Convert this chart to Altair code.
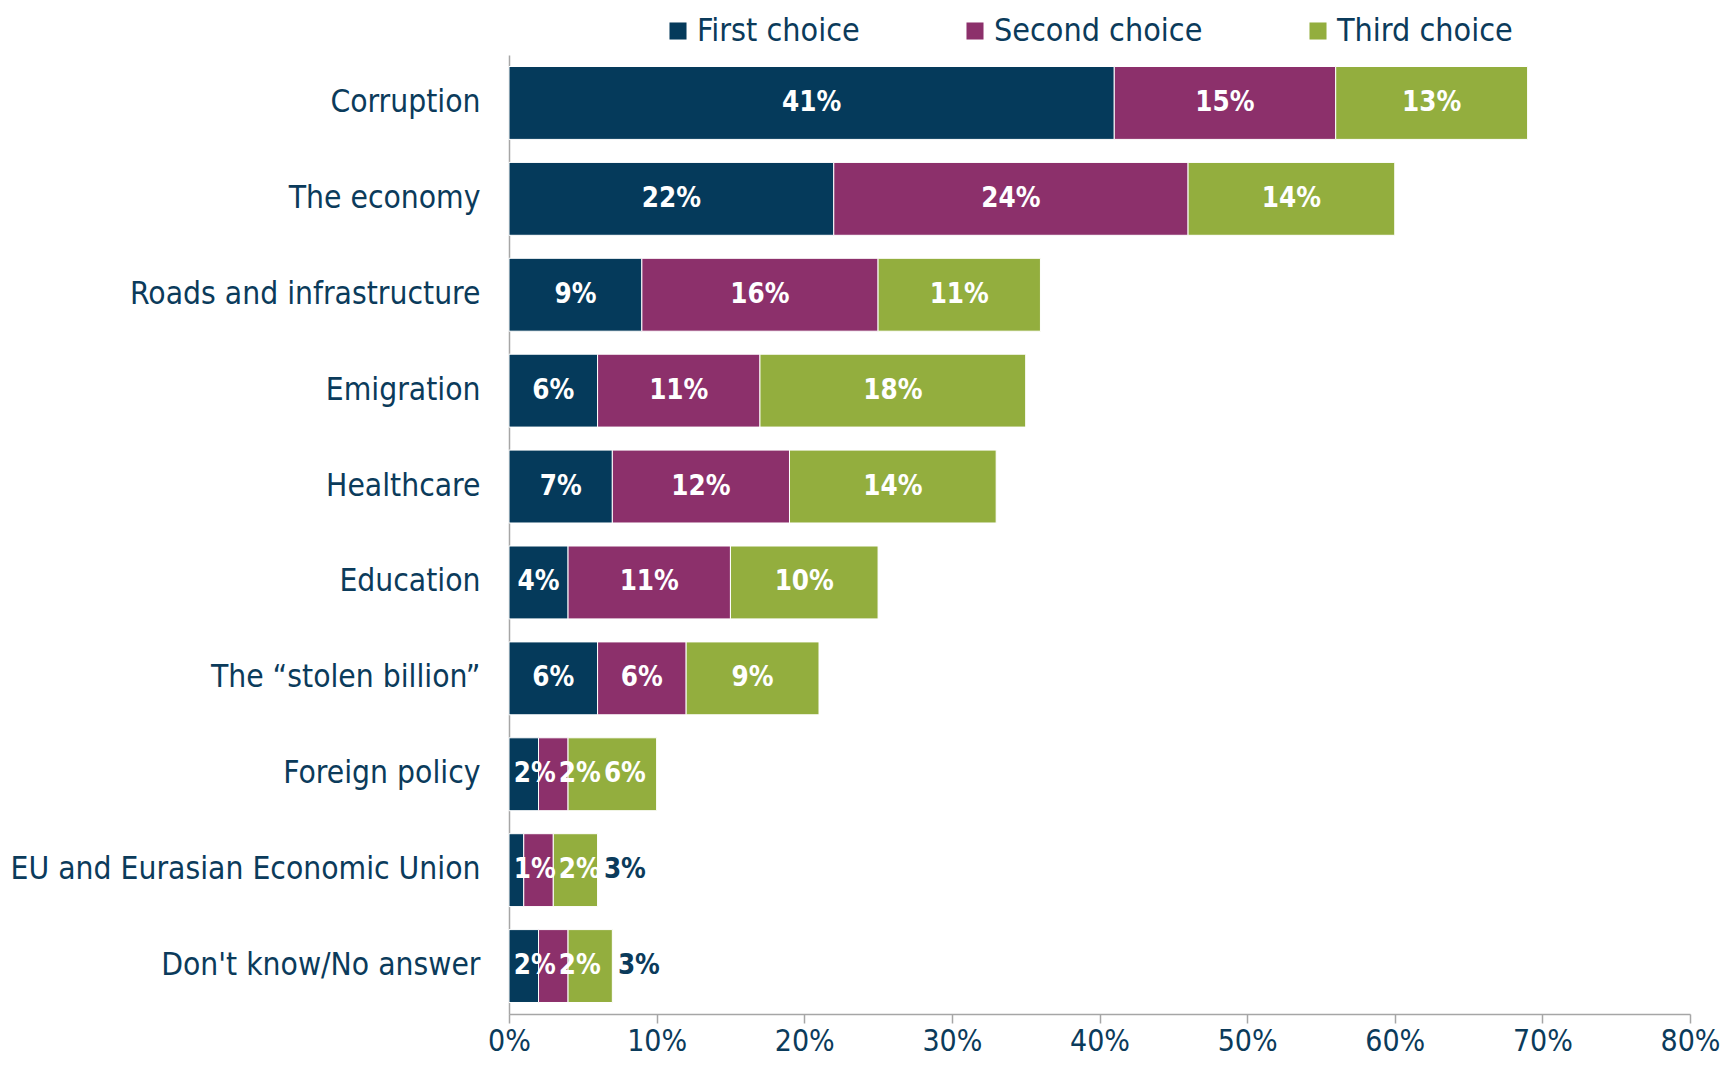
import altair as alt
import pandas as pd

categories = ["Corruption", "The economy", "Roads and infrastructure", "Emigration",
              "Healthcare", "Education\u00a0", "The \u201cstolen billion\u201d", "Foreign policy",
              "EU and Eurasian Economic Union", "Don't know/No answer"]
series = ["First choice", "Second choice", "Third choice"]
first_choice = [41, 22, 9, 6, 7, 4, 6, 2, 1, 2]
second_choice = [15, 24, 16, 11, 12, 11, 6, 2, 2, 2]
third_choice = [13, 14, 11, 18, 14, 10, 9, 6, 3, 3]

colors = ["#053a5b", "#8c306b", "#93ae3e"]
navy = "#0b3b5b"
FONT = "DejaVu Sans Condensed, DejaVu Sans"

# label layout: centre of segment, nudged right so labels never overlap (Excel-like);
# a label that no longer fits in its bar goes just past the bar end
MIN_HALF = 1.75
GAP = 3.05
OUTSIDE = 1.8
rows = []
for i, cat in enumerate(categories):
    vals = [first_choice[i], second_choice[i], third_choice[i]]
    total = sum(vals)
    start = 0
    prev = None
    for j, v in enumerate(vals):
        center = start + v / 2
        pos = max(center, MIN_HALF) if prev is None else max(center, prev + GAP)
        inside = pos < total
        if not inside:
            pos = max(pos, total + OUTSIDE)
        prev = pos
        rows.append({"category": cat, "choice": series[j], "order": j, "value": v,
                     "lx": pos, "label": f"{v}%", "inside": inside})
        start += v
df = pd.DataFrame(rows)

y_enc = alt.Y("category:N", sort=categories,
              scale=alt.Scale(paddingInner=0.24, paddingOuter=0.12),
              axis=alt.Axis(title=None, ticks=False, labelPadding=29, labelFontSize=31.5,
                            labelFont=FONT, labelColor=navy, domainColor="#a6a6a6",
                            domainWidth=1.5, minExtent=501, maxExtent=501, labelLimit=600))

bars = alt.Chart(df).mark_bar(stroke="white", strokeWidth=1).encode(
    x=alt.X("value:Q", stack="zero",
            scale=alt.Scale(domain=[0, 80], nice=False),
            axis=alt.Axis(title=None, values=list(range(0, 81, 10)), labelExpr="datum.value + '%'",
                          grid=False, tickSize=9, tickColor="#a6a6a6", domainColor="#a6a6a6",
                          domainWidth=1.5, tickWidth=1.5, labelFont=FONT, labelFontSize=30,
                          labelColor=navy, labelPadding=3, labelFlush=False,
                          labelAlign="center")),
    y=y_enc,
    color=alt.Color("choice:N", sort=series,
                    scale=alt.Scale(domain=series, range=colors),
                    legend=alt.Legend(title=None, orient="none", direction="horizontal",
                                      legendX=153, legendY=-40, symbolType="square",
                                      symbolSize=290, symbolStrokeWidth=0, labelFont=FONT,
                                      labelFontSize=32, labelColor=navy, labelOffset=3,
                                      columnPadding=99, padding=0, labelLimit=400)),
    order=alt.Order("order:Q"),
)

text = alt.Chart(df).mark_text(font=FONT, fontSize=27.5, fontWeight="bold", baseline="middle",
                               align="center").encode(
    x=alt.X("lx:Q"),
    y=alt.Y("category:N", sort=categories),
    text="label:N",
    color=alt.condition("datum.inside", alt.value("white"), alt.value(navy)),
)

chart = alt.layer(bars, text).properties(
    width=1181, height=959,
    autosize=alt.AutoSizeParams(type="none"),
    padding={"left": 501, "top": 47, "right": 34, "bottom": 49},
).configure_view(stroke=None)

chart.save("out.html", embed_options={"renderer": "svg", "actions": False})
